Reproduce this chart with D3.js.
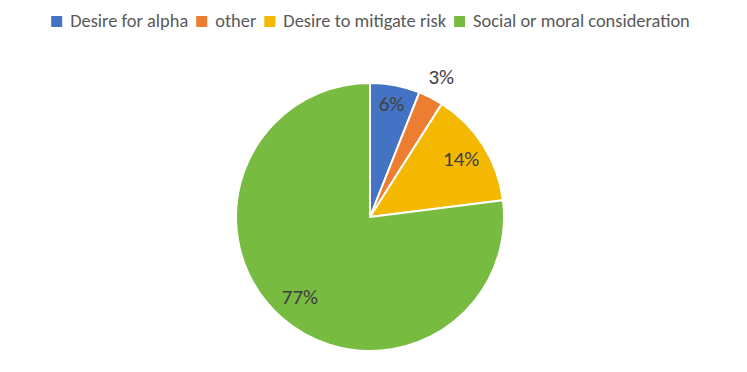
<html>
  <head>
    <meta charset="UTF-8" />
    <style>
      body { margin: 0; background: #fff; }
    </style>
    <script src="https://d3js.org/d3.v7.min.js"></script>
  </head>
  <body>
    <svg id="svg"></svg>
    <script>
      var categories = ["Desire for alpha", "other", "Desire to mitigate risk", "Social or moral consideration"];
      var values = [6, 3, 14, 77];
      var labels = ["6%", "3%", "14%", "77%"];
      var colors = ["#4472C4", "#ED7D31", "#F5B800", "#77BB41"];

      var width = 747,
        height = 372;
      var cx = 370,
        cy = 217,
        radius = 134;

      var svg = d3.select("#svg").attr("width", width).attr("height", height);

      var font = "Carlito, 'Open Sans', 'Liberation Sans', sans-serif";

      // legend
      var legend = svg.append("g");
      var x = 0;
      categories.forEach(function (c, i) {
        legend.append("rect")
          .attr("x", x).attr("y", 16)
          .attr("width", 11).attr("height", 11)
          .attr("fill", colors[i]);
        var t = legend.append("text")
          .attr("x", x + 19).attr("y", 27)
          .attr("fill", "#595959")
          .style("font-size", "18.4px")
          .style("font-family", font)
          .text(c);
        x += 19 + t.node().getComputedTextLength() + 8;
      });
      legend.attr("transform", "translate(" + ((width - (x - 8)) / 2 - 3) + ",0)");

      var pie = d3.pie().sort(null).value(function (d) { return d; });
      var arcs = pie(values);
      var arc = d3.arc().innerRadius(0).outerRadius(radius);

      var g = svg.append("g").attr("transform", "translate(" + cx + "," + cy + ")");

      g.selectAll("path")
        .data(arcs)
        .enter()
        .append("path")
        .attr("d", arc)
        .attr("fill", function (d, i) { return colors[i]; })
        .attr("stroke", "white")
        .attr("stroke-width", 2)
        .attr("stroke-linejoin", "round");

      // label radius per slice; the small slice sits outside
      var labelR = [115, 157, 108, 106];

      g.selectAll("text")
        .data(arcs)
        .enter()
        .append("text")
        .attr("transform", function (d, i) {
          var a = (d.startAngle + d.endAngle) / 2;
          return "translate(" + (Math.sin(a) * labelR[i]) + "," + (-Math.cos(a) * labelR[i]) + ")";
        })
        .attr("text-anchor", "middle")
        .attr("dy", "0.35em")
        .attr("fill", "#404040")
        .style("font-size", "21px")
        .style("font-family", font)
        .text(function (d, i) { return labels[i]; });
    </script>
  </body>
</html>
